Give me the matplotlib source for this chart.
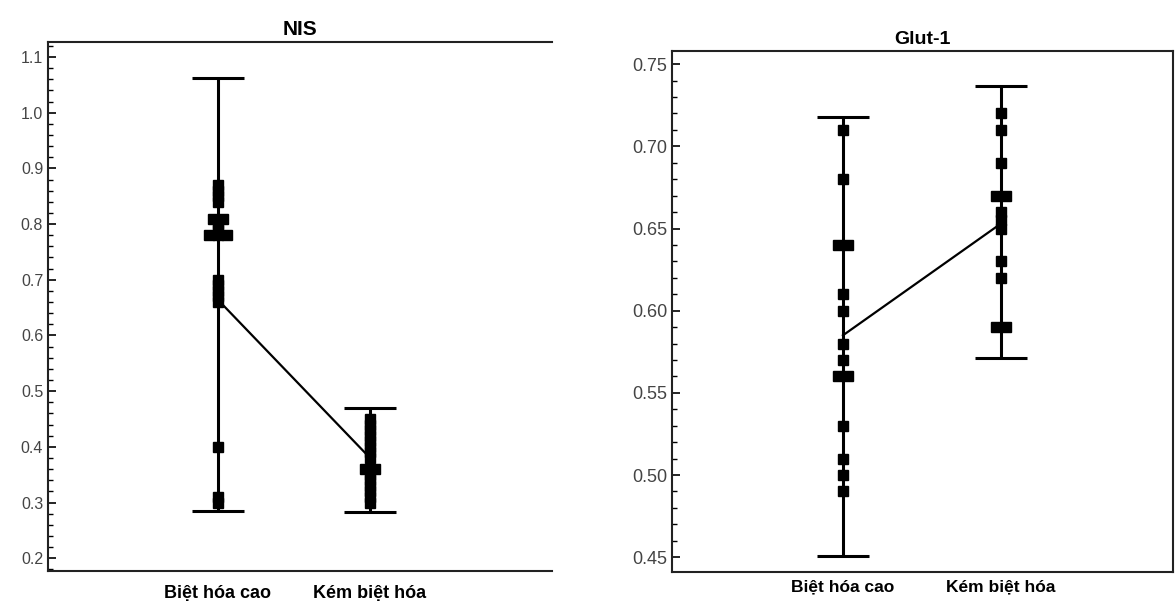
import matplotlib.pyplot as plt
from matplotlib.ticker import MultipleLocator

plt.rcParams['font.family'] = ['Liberation Sans', 'DejaVu Sans']

groups = ['Biệt hóa cao', 'Kém biệt hóa']

# NIS
nis_cao = [0.87, 0.86, 0.85, 0.84, 0.81, 0.81, 0.80, 0.79, 0.78, 0.78, 0.78,
           0.70, 0.69, 0.68, 0.67, 0.66, 0.40, 0.31, 0.30]
nis_kem = [0.45, 0.44, 0.43, 0.42, 0.41, 0.40, 0.39, 0.38, 0.36, 0.36,
           0.35, 0.34, 0.33, 0.32, 0.31, 0.30]
nis_mean = [0.664, 0.380]
nis_low = [0.284, 0.283]
nis_high = [1.062, 0.469]

# Glut-1
glut_cao = [0.71, 0.68, 0.64, 0.64, 0.61, 0.60, 0.58, 0.57, 0.56, 0.56,
            0.53, 0.51, 0.50, 0.49]
glut_kem = [0.72, 0.71, 0.69, 0.67, 0.67, 0.66, 0.655, 0.65, 0.63, 0.62,
            0.59, 0.59]
glut_mean = [0.585, 0.653]
glut_low = [0.451, 0.571]
glut_high = [0.718, 0.737]


def spread(values, xc, step):
    # put repeated values side by side
    xs = []
    for i, v in enumerate(values):
        n = values.count(v)
        k = values[:i].count(v)
        xs.append(xc + (k - (n - 1) / 2) * step)
    return xs


def panel(ax, title, pts, mean, low, high, ylim, major, minor, xlim, fmt,
          tsize, lsize, csize, cpad):
    pos = [1, 2]
    yerr = [[m - lo for m, lo in zip(mean, low)],
            [hi - m for m, hi in zip(mean, high)]]
    ax.errorbar(pos, mean, yerr=yerr, fmt='none', ecolor='black',
                elinewidth=2.2, capsize=19, capthick=2.2, zorder=2)
    ax.plot(pos, mean, color='black', lw=1.6, zorder=2)
    for xc, vals in zip(pos, pts):
        ax.plot(spread(vals, xc, 0.06), vals, 's', color='black',
                markersize=7, zorder=3)
    ax.set_xlim(*xlim)
    ax.set_ylim(*ylim)
    ax.yaxis.set_major_locator(MultipleLocator(major))
    ax.yaxis.set_minor_locator(MultipleLocator(minor))
    ax.yaxis.set_major_formatter(fmt)
    ax.tick_params(axis='y', which='major', direction='in', length=6,
                   width=1.2, labelsize=lsize, labelcolor='#444444')
    ax.tick_params(axis='y', which='minor', direction='in', length=3.5, width=1)
    ax.set_xticks(pos)
    ax.set_xticklabels(groups, fontsize=csize, fontweight='bold')
    ax.tick_params(axis='x', length=0, pad=cpad)
    ax.set_title(title, fontsize=tsize, fontweight='bold', pad=5)
    for s in ax.spines.values():
        s.set_linewidth(1.5)
        s.set_color('#222222')


fig = plt.figure(figsize=(11.75, 6.11), dpi=100)
ax1 = fig.add_axes([48 / 1175, 40 / 611, 504 / 1175, 529 / 611])
ax2 = fig.add_axes([672 / 1175, 39 / 611, 501 / 1175, 521 / 611])

panel(ax1, 'NIS', [nis_cao, nis_kem], nis_mean, nis_low, nis_high,
      (0.177, 1.127), 0.1, 0.02, (-0.118, 3.197), '{x:.1f}',
      15, 11.5, 13, 10)
ax1.spines['right'].set_visible(False)

panel(ax2, 'Glut-1', [glut_cao, glut_kem], glut_mean, glut_low, glut_high,
      (0.441, 0.758), 0.05, 0.01, (-0.082, 3.089), '{x:.2f}',
      14, 13, 12.5, 5)

fig.savefig('out.png', dpi=100)
